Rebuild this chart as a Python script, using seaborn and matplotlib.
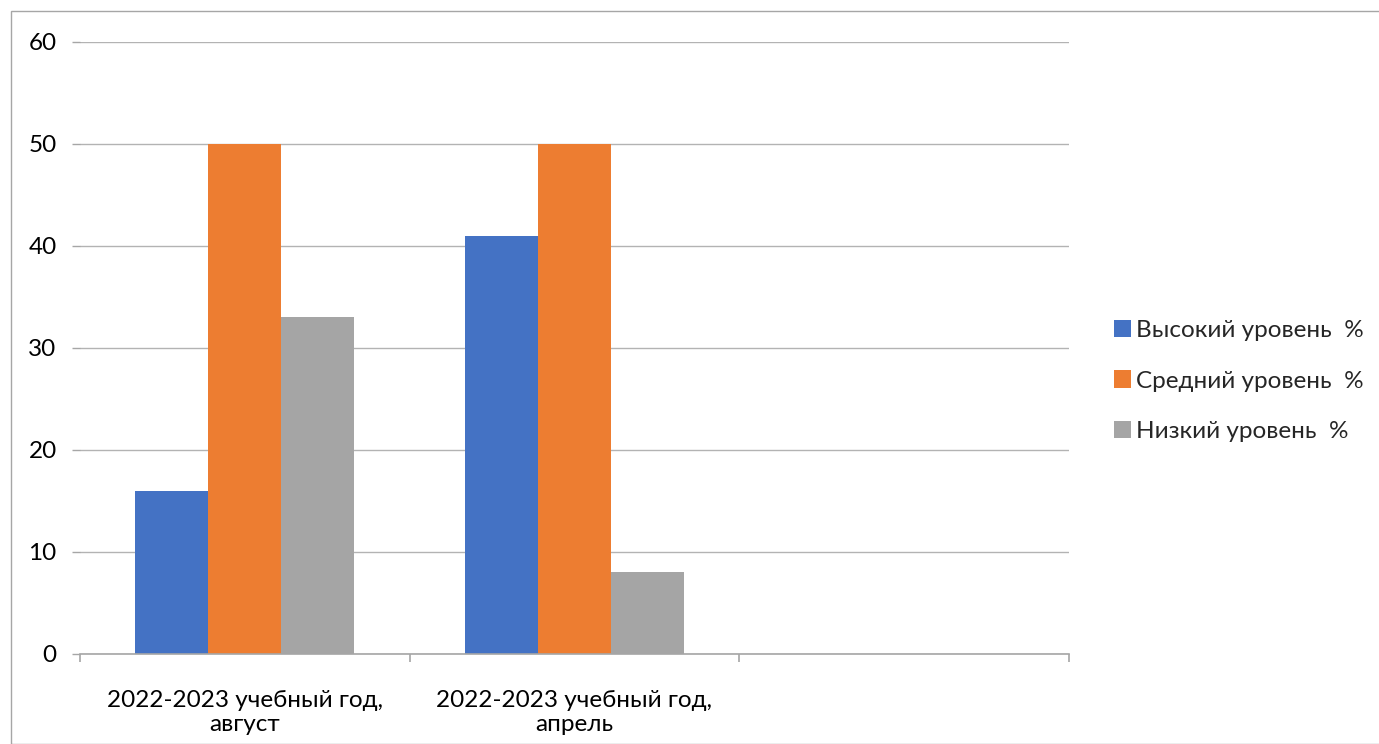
import matplotlib
matplotlib.use("Agg")
import matplotlib.pyplot as plt
import seaborn as sns
import pandas as pd
import numpy as np
from matplotlib.patches import Rectangle

categories = ["2022-2023 учебный год,\nавгуст", "2022-2023 учебный год,\nапрель", " "]
series = ["Высокий уровень  %", "Средний уровень  %", "Низкий уровень  %"]
high = [16, 41, np.nan]
mid = [50, 50, np.nan]
low = [33, 8, np.nan]
colors = ["#4472C4", "#ED7D31", "#A5A5A5"]

rows = []
for s, vals in zip(series, [high, mid, low]):
    for c, v in zip(categories, vals):
        rows.append({"cat": c, "series": s, "value": v})
df = pd.DataFrame(rows)

sns.set_theme(style="white")
plt.rcParams["font.family"] = ["Lato", "DejaVu Sans"]

fs = 17.5
fig = plt.figure(figsize=(13.79, 7.44), dpi=100)
ax = fig.add_axes([80/1379, 1-654/744, (1069-80)/1379, (654-42)/744])

sns.barplot(data=df, x="cat", y="value", hue="series", order=categories,
            hue_order=series, palette=colors, width=0.664, saturation=1,
            errorbar=None, ax=ax, linewidth=0, gap=0)

ax.set_xlim(-0.5, 2.5)
ax.set_ylim(0, 60)
ax.set_yticks(range(0, 61, 10))
ax.yaxis.grid(True, color="#B3B3B3", linewidth=1)
ax.set_axisbelow(True)
ax.set_xlabel("")
ax.set_ylabel("")
for side in ["top", "right", "left"]:
    ax.spines[side].set_visible(False)
ax.spines["bottom"].set_color("#A6A6A6")
ax.spines["bottom"].set_linewidth(1.2)
ax.tick_params(axis="y", left=True, length=5.8, color="#A6A6A6", width=1, labelsize=fs, pad=11, labelcolor="black")
ax.tick_params(axis="x", which="major", bottom=False, labelsize=fs, pad=20, labelcolor="black")
ax.set_xticks([-0.5, 0.5, 1.5, 2.5], minor=True)
ax.tick_params(axis="x", which="minor", bottom=True, length=5.8, color="#A6A6A6", width=1.2)
for lab in ax.get_xticklabels():
    lab.set_linespacing(1.15)

handles, labels = ax.get_legend_handles_labels()
ax.legend(handles, labels, loc="center left", bbox_to_anchor=(1092/1379, 1-381/744),
          bbox_transform=fig.transFigure, frameon=False, fontsize=fs,
          handlelength=0.7, handleheight=0.7, handletextpad=0.2, labelspacing=1.2)

fig.patches.append(Rectangle((11/1379, 0), 1, 1-11/744, transform=fig.transFigure,
                             fill=False, edgecolor="#A6A6A6", linewidth=1))

fig.savefig("out.png", dpi=100)
